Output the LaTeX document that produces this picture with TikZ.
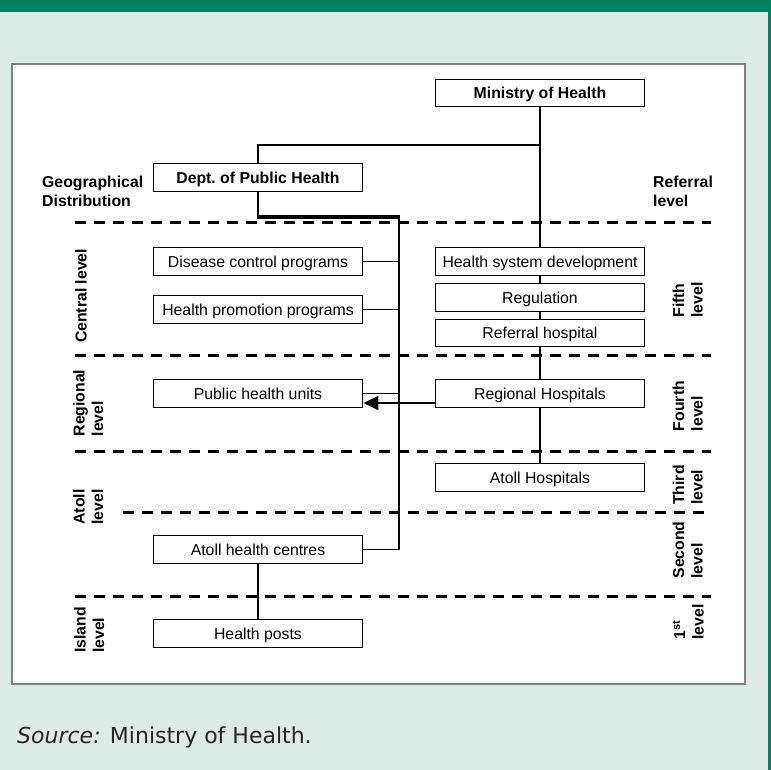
\documentclass[tikz,border=0pt]{standalone}
\usepackage{fontspec}
\setmainfont{Liberation Sans}
\newfontfamily\srcfont{DejaVu Sans}
\usetikzlibrary{arrows.meta}
\definecolor{dkgreen}{RGB}{0,128,96}
\definecolor{ltgreen}{RGB}{221,235,231}
\begin{document}
\begin{tikzpicture}[x=1pt,y=-1pt,
  box/.style={draw=black,line width=1.8pt,fill=white,minimum width=209pt,minimum height=28pt,inner sep=0pt,text height=14.3pt,text depth=3pt,font=\fontsize{15.8}{19}\selectfont},
  bbox/.style={box,font=\fontsize{15.8}{19}\selectfont\bfseries},
  conn/.style={line width=1.7pt},
  lvl/.style={dash pattern=on 11pt off 8pt, line width=3pt},
  lab/.style={font=\fontsize{15.8}{18.5}\selectfont\bfseries, align=left, inner sep=0pt},
  ]
% background and frame
\fill[ltgreen] (0,0) rectangle (771,770);
\fill[dkgreen] (0,0) rectangle (771,12);
\fill[dkgreen] (768,0) rectangle (771,770);
\draw[black!50, line width=1.5pt, fill=white] (12,64) rectangle (745,684);
\useasboundingbox (0,0) rectangle (771,770);

% level separators
\draw[lvl] (75,223) -- (711,223);
\draw[lvl] (75,355) -- (711,355);
\draw[lvl] (75,451) -- (711,451);
\draw[lvl] (123,512) -- (711,512);
\draw[lvl] (75,596) -- (711,596);

% boxes
\node[bbox, minimum height=27pt] (min) at (540,93) {Ministry of Health};
\node[bbox] (dept) at (258,177.5) {Dept.\ of Public Health};
\node[box] (dis) at (258,261.5) {Disease control programs};
\node[box] (pro) at (258,309.5) {Health promotion programs};
\node[box] (phu) at (258,393.5) {Public health units};
\node[box] (ahc) at (258,549.5) {Atoll health centres};
\node[box] (hp) at (258,633.5) {Health posts};
\node[box] (hsd) at (540,261.5) {Health system development};
\node[box] (reg) at (540,297.5) {Regulation};
\node[box, minimum height=27pt] (rh) at (540,333) {Referral hospital};
\node[box] (rgh) at (540,393.5) {Regional Hospitals};
\node[box] (ath) at (540,477.5) {Atoll Hospitals};

% connectors
\coordinate (mj) at (540,145);
\coordinate (busT) at (399,217);
\coordinate (busB) at (399,549.5);
\draw[conn] (min.south) -- (hsd.north);
\draw[conn] (mj) -| (dept.north);
\draw[conn] (hsd.south) -- (reg.north);
\draw[conn] (reg.south) -- (rh.north);
\draw[conn] (rh.south) -- (rgh.north);
\draw[conn] (rgh.south) -- (ath.north);
\draw[conn] (dept.south) -- (dept.south |- busT);
\draw[line width=3.5pt] ([xshift=-0.85pt]dept.south |- busT) -- ([xshift=0.85pt]busT);
\draw[conn] (busT) -- (busB) -- (ahc.east);
\draw[conn] (dis.east) -- (dis.east -| busT);
\draw[conn] (pro.east) -- (pro.east -| busT);
\draw[conn] (phu.east) -- (phu.east -| busT);
\draw[conn, -{Triangle[length=15pt,width=14pt]}] ([yshift=-9.5pt]rgh.west) -- ([yshift=-9.5pt]phu.east);
\draw[conn] (ahc.south) -- (hp.north);

% labels
\node[lab, anchor=west] (geo) at (42,191.5) {Geographical\\Distribution};
\node[lab, anchor=west] (refl) at (653,191.5) {Referral\\level};
\node[lab, rotate=90, anchor=north] (lc) at (75,296) {Central level};
\node[lab, rotate=90, anchor=north] (lr) at (73,403) {Regional\\level};
\node[lab, rotate=90, anchor=north] (la) at (73,507) {Atoll\\level};
\node[lab, rotate=90, anchor=north] (li) at (74,630) {Island\\level};
\node[lab, rotate=90, anchor=south] (r5) at (703,300) {Fifth\\level};
\node[lab, rotate=90, anchor=south] (r4) at (703,406) {Fourth\\level};
\node[lab, rotate=90, anchor=south] (r3) at (703,485) {Third\\level};
\node[lab, rotate=90, anchor=south] (r2) at (703,550) {Second\\level};
\node[lab, rotate=90, anchor=south] (r1) at (704,622) {1\textsuperscript{st}\\level};

% source
\node[anchor=base west, inner sep=0pt, font=\srcfont\fontsize{22}{26}\selectfont, text=black!85] (src) at (17,743) {\textit{Source:} Ministry of Health.};
\end{tikzpicture}
\end{document}
